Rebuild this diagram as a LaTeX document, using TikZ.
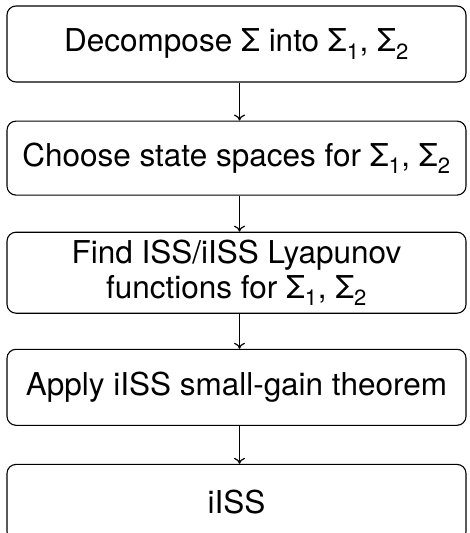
\documentclass[tikz,border=0pt]{standalone}
\usepackage{fontspec}
\setmainfont{TeX Gyre Heros}
\usetikzlibrary{positioning,arrows.meta}

\tikzset{
  stepbox/.style={draw, rounded corners=9pt, line width=1.1pt, minimum width=459pt,
    minimum height=76pt, align=center, inner sep=2pt,
    font=\fontsize{31.5}{35}\selectfont},
  flow/.style={-{To[length=6pt,width=11pt]}, line width=1.2pt}
}

\begin{document}
\begin{tikzpicture}[x=1pt,y=1pt, node distance=38pt]
    \useasboundingbox (0,0) rectangle (469,-533);
    \node[stepbox] (decomp) at (236.5,-44) {Decompose Σ into Σ\textsubscript{1}, Σ\textsubscript{2}};
    \node[stepbox, below=of decomp, minimum height=74pt] (spaces) {Choose state spaces for Σ\textsubscript{1}, Σ\textsubscript{2}};
    \node[stepbox, below=36pt of spaces, minimum height=81pt] (lyap) {Find ISS/iISS Lyapunov\\functions for Σ\textsubscript{1}, Σ\textsubscript{2}};
    \node[stepbox, below=35pt of lyap] (gain) {Apply iISS small-gain theorem};
    \node[stepbox, below=of gain] (iiss) {iISS};
    % arrows between the steps
    \draw[flow] ([xshift=3pt]decomp.south) -- ([xshift=3pt]spaces.north);
    \draw[flow] ([xshift=3pt]spaces.south) -- ([xshift=3pt]lyap.north);
    \draw[flow] ([xshift=3pt]lyap.south) -- ([xshift=3pt]gain.north);
    \draw[flow] ([xshift=3pt]gain.south) -- ([xshift=3pt]iiss.north);
\end{tikzpicture}
\end{document}
